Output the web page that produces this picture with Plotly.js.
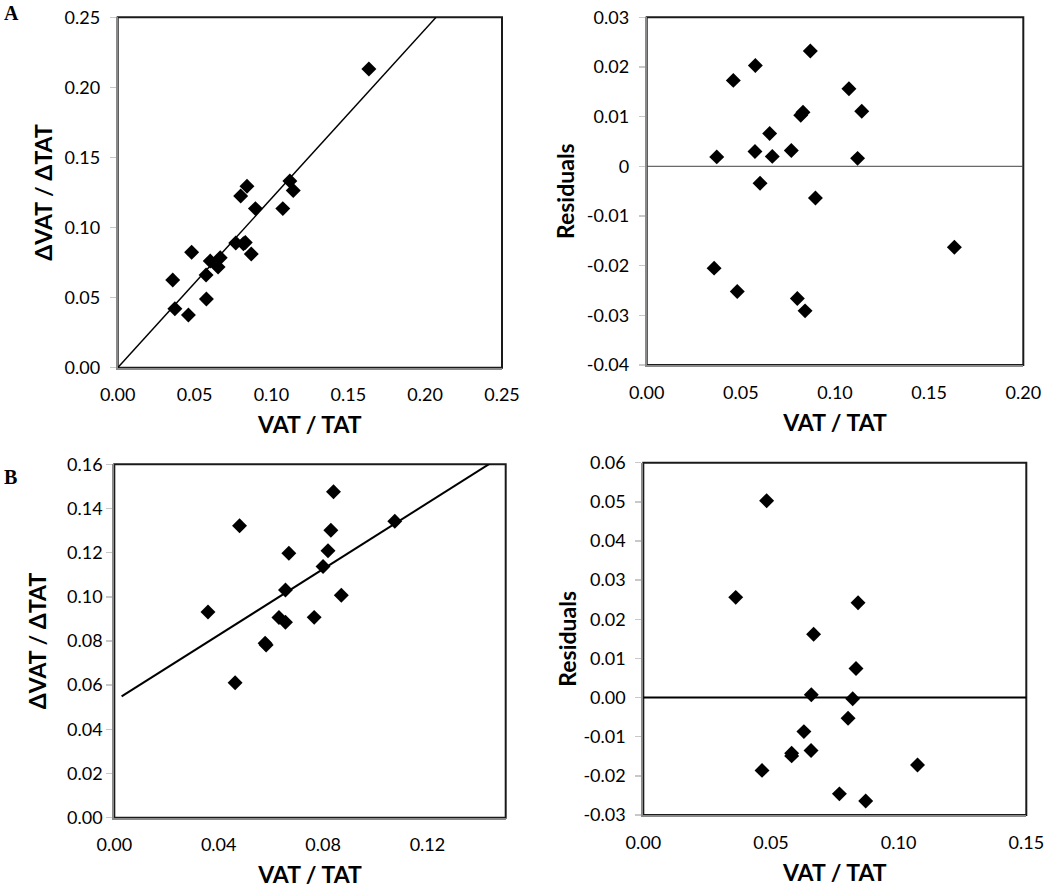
<!DOCTYPE html>
<html>
<head>
<meta charset="utf-8">
<script src="https://cdn.plot.ly/plotly-3.0.1.min.js"></script>
<style>
  body { margin: 0; background: #fff; }
  #myPlot { width: 1050px; height: 891px; }
</style>
</head>
<body>
<div id="myPlot"></div>
<script>
// panel A : VAT/TAT vs dVAT/dTAT, and residuals
var xA = [0.0358, 0.0372, 0.0460, 0.0481, 0.0575, 0.0577, 0.0602, 0.0653, 0.0667, 0.0768,
          0.0800, 0.0818, 0.0830, 0.0841, 0.0869, 0.0896, 0.1074, 0.1120, 0.1142, 0.1634];
var yA = [0.0626, 0.0421, 0.0376, 0.0823, 0.0661, 0.0490, 0.0761, 0.0718, 0.0785, 0.0890,
          0.1225, 0.0884, 0.0893, 0.1294, 0.0811, 0.1135, 0.1135, 0.1332, 0.1265, 0.2131];
var resA = [-0.0205, 0.0019, 0.0173, -0.0252, 0.0030, 0.0203, -0.0034, 0.0066, 0.0020, 0.0032,
            -0.0266, 0.0103, 0.0109, -0.0291, 0.0232, -0.0064, 0.0156, 0.0016, 0.0111, -0.0163];
var fitA = [1.207, 0];        // slope, intercept
var fitAx = [0, 0.2071];

// panel B
var xB = [0.0359, 0.0463, 0.0480, 0.0578, 0.0582, 0.0631, 0.0656, 0.0656, 0.0669, 0.0766,
          0.0800, 0.0819, 0.0830, 0.0840, 0.0870, 0.1075];
var yB = [0.0931, 0.0611, 0.1322, 0.0790, 0.0782, 0.0906, 0.1031, 0.0885, 0.1197, 0.0907,
          0.1137, 0.1209, 0.1301, 0.1476, 0.1007, 0.1342];
var resxB = [0.0362, 0.0465, 0.0483, 0.0581, 0.0581, 0.0629, 0.0658, 0.0657, 0.0667, 0.0768,
             0.0802, 0.0820, 0.0833, 0.0841, 0.0871, 0.1074];
var resB = [0.0256, -0.0186, 0.0503, -0.0142, -0.0149, -0.0087, 0.0007, -0.0135, 0.0162, -0.0246,
            -0.0053, -0.0003, 0.0074, 0.0242, -0.0264, -0.0172];
var fitB = [0.747, 0.0528];
var fitBx = [0.0028, 0.1442];

// tick labels
var ticksA1 = [0, 0.05, 0.10, 0.15, 0.20, 0.25];
var ticksA1txt = ["0.00", "0.05", "0.10", "0.15", "0.20", "0.25"];
var ticksA2x = [0, 0.05, 0.10, 0.15, 0.20];
var ticksA2xtxt = ["0.00", "0.05", "0.10", "0.15", "0.20"];
var ticksA2y = [-0.04, -0.03, -0.02, -0.01, 0, 0.01, 0.02, 0.03];
var ticksA2ytxt = ["-0.04", "-0.03", "-0.02", "-0.01", "0", "0.01", "0.02", "0.03"];
var ticksB1x = [0, 0.04, 0.08, 0.12];
var ticksB1xtxt = ["0.00", "0.04", "0.08", "0.12"];
var ticksB1y = [0, 0.02, 0.04, 0.06, 0.08, 0.10, 0.12, 0.14, 0.16];
var ticksB1ytxt = ["0.00", "0.02", "0.04", "0.06", "0.08", "0.10", "0.12", "0.14", "0.16"];
var ticksB2x = [0, 0.05, 0.10, 0.15];
var ticksB2xtxt = ["0.00", "0.05", "0.10", "0.15"];
var ticksB2y = [-0.03, -0.02, -0.01, 0, 0.01, 0.02, 0.03, 0.04, 0.05, 0.06];
var ticksB2ytxt = ["-0.03", "-0.02", "-0.01", "0.00", "0.01", "0.02", "0.03", "0.04", "0.05", "0.06"];

var W = 1050, H = 891;
function dx(a, b) { return [a / W, b / W]; }
function dy(top, bot) { return [1 - bot / H, 1 - top / H]; }

function line(fit, xs) {
  return xs.map(function (x) { return fit[1] + fit[0] * x; });
}

var mk = {symbol: "diamond", size: 11.5, color: "#000", line: {width: 0}};
var FONT = "Lato, 'Noto Sans', sans-serif";

var data = [
  {x: fitAx, y: line(fitA, fitAx), mode: "lines", line: {color: "#000", width: 1.5}, xaxis: "x", yaxis: "y"},
  {x: xA, y: yA, mode: "markers", marker: mk, xaxis: "x", yaxis: "y"},
  {x: xA, y: resA, mode: "markers", marker: mk, xaxis: "x2", yaxis: "y2"},
  {x: fitBx, y: line(fitB, fitBx), mode: "lines", line: {color: "#000", width: 2}, xaxis: "x3", yaxis: "y3"},
  {x: xB, y: yB, mode: "markers", marker: mk, xaxis: "x3", yaxis: "y3"},
  {x: resxB, y: resB, mode: "markers", marker: mk, xaxis: "x4", yaxis: "y4"}
];

function xax(dom, rng, tv, tt, anchor) {
  return {
    domain: dom, range: rng, anchor: anchor, tickvals: tv, ticktext: tt,
    showgrid: false, zeroline: false, showline: true, linecolor: "#8a8a8a", linewidth: 2,
    ticks: "", ticklabelstandoff: 10,
    tickfont: {family: FONT, size: 18, color: "#000"},
    title: {text: "VAT / TAT", font: {family: FONT, size: 23, color: "#000", weight: "bold"}, standoff: 13}
  };
}
function yax(dom, rng, tv, tt, anchor, title, so, tso) {
  return {
    domain: dom, range: rng, anchor: anchor, tickvals: tv, ticktext: tt,
    showgrid: false, zeroline: false, showline: true, linecolor: "#8a8a8a", linewidth: 2,
    ticks: "outside", ticklen: 6, tickcolor: "#c8c8c8", tickwidth: 1.5, ticklabelstandoff: so,
    tickfont: {family: FONT, size: 18, color: "#000"},
    title: {text: title, font: {family: FONT, size: 23, color: "#000", weight: "bold"}, standoff: tso}
  };
}

var layout = {
  width: W, height: H, showlegend: false,
  margin: {l: 0, r: 0, t: 0, b: 0},
  paper_bgcolor: "#fff", plot_bgcolor: "#fff",
  xaxis: xax(dx(117.7, 502), [0, 0.25], ticksA1, ticksA1txt, "y"),
  yaxis: yax(dy(17.3, 367.7), [0, 0.25], ticksA1, ticksA1txt, "x", "ΔVAT / ΔTAT", 6, 5),
  xaxis2: xax(dx(646.7, 1023.3), [0, 0.20], ticksA2x, ticksA2xtxt, "y2"),
  yaxis2: yax(dy(17.3, 365), [-0.04, 0.03], ticksA2y, ticksA2ytxt, "x2", "Residuals", 6, 6),
  xaxis3: xax(dx(114.3, 505.7), [0, 0.15], ticksB1x, ticksB1xtxt, "y3"),
  yaxis3: yax(dy(464.3, 817.7), [0, 0.16], ticksB1y, ticksB1ytxt, "x3", "ΔVAT / ΔTAT", 0, 14),
  xaxis4: xax(dx(643.3, 1026.3), [0, 0.15], ticksB2x, ticksB2xtxt, "y4"),
  yaxis4: yax(dy(462.7, 815), [-0.03, 0.06], ticksB2y, ticksB2ytxt, "x4", "Residuals", 6, 0),
  shapes: [],
  annotations: [
    {text: "A", xref: "paper", yref: "paper", x: 2 / W, y: 1 - 0 / H, xanchor: "left", yanchor: "top",
     showarrow: false, font: {family: "'Liberation Serif', 'Times New Roman', serif", size: 20, color: "#000", weight: "bold"}},
    {text: "B", xref: "paper", yref: "paper", x: 2 / W, y: 1 - 464 / H, xanchor: "left", yanchor: "top",
     showarrow: false, font: {family: "'Liberation Serif', 'Times New Roman', serif", size: 20, color: "#000", weight: "bold"}}
  ]
};

// plot-area border (top/right black) and zero lines of residual panels
[["x", "y"], ["x2", "y2"], ["x3", "y3"], ["x4", "y4"]].forEach(function (p) {
  layout.shapes.push({type: "rect", xref: p[0] + " domain", yref: p[1] + " domain", x0: 0, x1: 1, y0: 0, y1: 1,
                      line: {color: "#1a1a1a", width: 2}, layer: "below"});
});
layout.shapes.push({type: "line", xref: "x2 domain", yref: "y2", x0: 0, x1: 1, y0: 0, y1: 0,
                    line: {color: "#444", width: 1}, layer: "below"});
layout.shapes.push({type: "line", xref: "x4 domain", yref: "y4", x0: 0, x1: 1, y0: 0, y1: 0,
                    line: {color: "#000", width: 2}, layer: "below"});

Plotly.newPlot("myPlot", data, layout, {staticPlot: true});
</script>
</body>
</html>
